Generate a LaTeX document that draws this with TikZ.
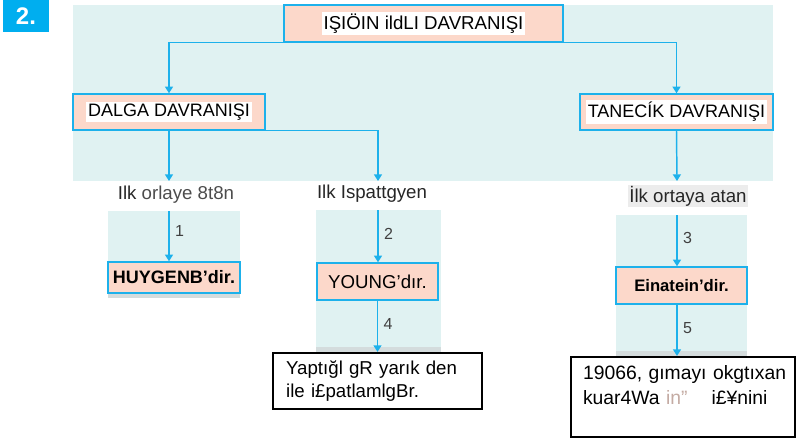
\documentclass[tikz,border=0pt]{standalone}
\usepackage{fontspec}
\setmainfont{Liberation Sans}
\usetikzlibrary{positioning,arrows.meta}

\definecolor{lineblue}{HTML}{1DB1EB}
\definecolor{boxfill}{HTML}{FCD8CA}
\definecolor{panel}{HTML}{E0F2F2}
\definecolor{strip}{HTML}{D4DCDD}
\definecolor{badge}{HTML}{00AEEF}
\definecolor{faded}{HTML}{C4ABA3}
\newcommand{\whitebg}[1]{{\fboxsep=1.5pt\colorbox{white}{#1}}}

\begin{document}
\begin{tikzpicture}[
    x=0.75pt, y=-0.75pt, line width=0.9pt,
    % --- box styles ---
    box/.style={draw=lineblue, fill=boxfill, line width=1.1pt, inner sep=0pt,
                minimum height=27pt, font=\fontsize{13.5}{15}\selectfont},
    txtbox/.style={draw=black, fill=white, line width=1.6pt, inner sep=0pt,
                   align=left, font=\fontsize{14}{17.25}\selectfont},
    % --- arrow style ---
    arr/.style={-{Triangle[width=6pt,length=5pt]}, draw=lineblue, line width=1.1pt},
    % --- label styles ---
    lbl/.style={font=\fontsize{14}{16}\selectfont, text=black!85, inner sep=1pt},
    num/.style={font=\fontsize{12}{14}\selectfont, text=black!75, inner sep=1pt},
]
\useasboundingbox (0,0) rectangle (796,439);

%% =====================================================================
%%  COORDINATES in px of the page (x right, y down)
%%  Cols:  169 = wave | 378 = Young | 677 = particle
%%  Rows:  top = 23 | level 2 = 112 | result boxes = 280 | notes = 385
%% =====================================================================

%% ---- BACKGROUND PANELS ----
\fill[panel] (73,5)    rectangle (773,181);
\fill[panel] (108,211) rectangle (240,293);
\fill[strip] (108,293) rectangle (240,298);
\fill[panel] (316,210) rectangle (441,347);
\fill[strip] (316,347) rectangle (441,353);
\fill[panel] (616,215) rectangle (747,351);
\fill[strip] (616,351) rectangle (747,357);

%% ---- BADGE ----
\node[fill=badge, text=white, minimum width=34.5pt, minimum height=24pt, inner sep=0pt,
      font=\fontsize{18}{18}\selectfont\bfseries] (badge) at (26,16) {2.};

%% ---- TOP LEVEL ----
\node[box, minimum width=209pt, minimum height=27.75pt, font=\fontsize{14}{15}\selectfont]
    (top) at (423.5,23.5) {\whitebg{IŞIÖIN ildLI DAVRANIŞI}};

%% ---- SECOND LEVEL ----
\node[box, minimum width=144pt] (dalga) at (169,112) {\whitebg{DALGA DAVRANIŞI}};
\node[box, minimum width=144.75pt] (tanecik) at (676.5,112) {\whitebg{TANECÍK DAVRANIŞI}};

%% ---- QUESTIONS ----
\node[lbl] (q1) at (176,195) {Ilk \textcolor{black!70}{orlaye 8t8n}};
\node[lbl] (q2) at (372,194) {Ilk Ispattgyen};
\node[lbl, fill=gray!15, minimum width=86pt, minimum height=15.75pt] (q3) at (688,196)
    {İlk ortaya atan};

%% ---- ANSWERS ----
\node[box, minimum width=99pt, minimum height=23.25pt, font=\fontsize{13.5}{15}\selectfont\bfseries]
    (huy) at (174,277.5) {HUYGENB'dir.};
\node[box, minimum width=90.75pt, minimum height=27.75pt, font=\fontsize{14}{15}\selectfont]
    (young) at (377.5,281.5) {YOUNG'dır.};
\node[box, minimum width=98.25pt, minimum height=27.75pt, font=\fontsize{12.5}{15}\selectfont\bfseries]
    (einst) at (681.5,285.5) {Einatein'dir.};

%% ---- NOTES ----
\node[txtbox, minimum width=156.75pt, minimum height=42pt, text width=137pt] (note4) at (377.5,381)
    {Yaptığl gR yarık den\\ile i£patlamlgBr.};
\node[txtbox, minimum width=168pt, minimum height=60pt, text width=150pt,
      font=\fontsize{14.5}{18.75}\selectfont] (note5) at (683,397)
    {\mbox{19066, gımayı okgtıxan}\\kuar4Wa \textcolor{faded}{in”}\hspace{18pt}i£¥nini\\\mbox{}};

%% ---- HELPER POINTS ----
\coordinate (d1) at (169,181);
\coordinate (d2) at (378,181);
\coordinate (t1) at (677,181);
\coordinate (s1) at (169,211);
\coordinate (s2) at (378,210);
\coordinate (s3) at (677,215);

%% =====================================================================
%%  ARROWS
%% =====================================================================
\draw[arr] (top.south) -| (dalga.north);
\draw[arr] (top.south) -| (tanecik.north);

\draw[arr] (dalga.south) -- (d1);
\draw[arr] (dalga.south east) -| (d2);
\draw[arr] (tanecik.south) -- (t1);

\draw[arr] (s1) -- node[num, right=3pt, pos=0.4]{1} (s1 |- huy.north);
\draw[arr] (s2) -- node[num, right=3pt, pos=0.45]{2} (s2 |- young.north);
\draw[arr] (s3) -- node[num, right=3pt, pos=0.45]{3} (s3 |- einst.north);
\draw[arr] (young.south) -- node[num, right=3pt, pos=0.45]{4} (young.south |- note4.north);
\draw[arr] (s3 |- einst.south) -- node[num, right=3pt, pos=0.45]{5} (s3 |- note5.north);

\end{tikzpicture}
\end{document}
